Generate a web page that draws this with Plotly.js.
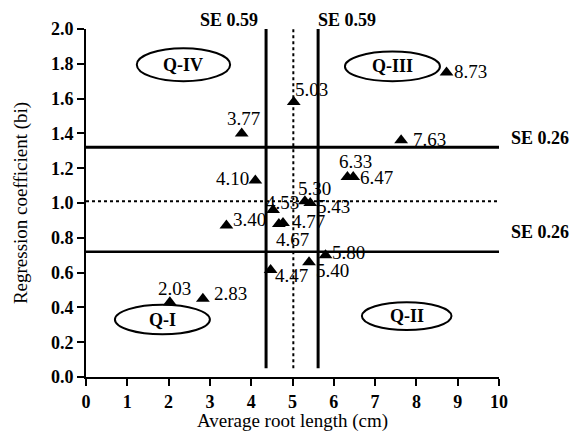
<!DOCTYPE html>
<html>
<head>
<meta charset="utf-8">
<script src="https://cdn.plot.ly/plotly-3.0.1.min.js"></script>
<style>html,body{margin:0;padding:0;background:#fff;}#chart{width:575px;height:432px;}</style>
</head>
<body>
<div id="chart"></div>
<script>
// ---- data ----
var rootLength = [2.03, 2.83, 3.40, 3.77, 4.10, 4.47, 4.53, 4.67, 4.77, 5.03, 5.30, 5.40, 5.43, 5.80, 6.33, 6.47, 7.63, 8.73];
var regCoef    = [0.43, 0.45, 0.87, 1.40, 1.13, 0.615, 0.96, 0.88, 0.885, 1.58, 1.01, 0.66, 1.00, 0.70, 1.15, 1.15, 1.36, 1.75];
var pointLabels = rootLength.map(function (v) { return v.toFixed(2); });

var meanLength = 5.02, lengthLow = 4.36, lengthHigh = 5.62;   // SE 0.59 lines
var meanCoef = 1.01, coefLow = 0.72, coefHigh = 1.32;         // SE 0.26 lines
var seLengthText = "SE 0.59", seCoefText = "SE 0.26";
var quadrantNames = ["Q-I", "Q-II", "Q-III", "Q-IV"];
var xTicks = [0, 1, 2, 3, 4, 5, 6, 7, 8, 9, 10];
var yTicks = [0.0, 0.2, 0.4, 0.6, 0.8, 1.0, 1.2, 1.4, 1.6, 1.8, 2.0];

// ---- label placement (style, not data) ----
var lblAnchor = ["center","left","left","center","right","left","center","center","left","left","center","left","left","left","center","left","left","left"];
var lblDx = [5, 9, 5, 2, -4, 2, 9, 14, 7, -1, 10, 5, 5, 4, 8, 5, 10, 5];
var lblDy = [14, 5, 6, 15, 2, -6, 7, -16, 2, 13, 13, -8, -3, 3, 15, -1, 1, 1];

// ellipse boxes for quadrant names [x0,x1,y0,y1]
var quadBoxes = [[0.70, 3.00, 0.245, 0.415], [6.68, 8.85, 0.27, 0.43], [6.27, 8.57, 1.70, 1.87], [1.23, 3.49, 1.70, 1.89]];

var serif = "Liberation Serif, Times New Roman, serif";

var trace = {
  x: rootLength, y: regCoef, type: "scatter", mode: "markers",
  marker: {symbol: "triangle-up", size: 12, color: "#000"},
  hoverinfo: "skip", showlegend: false, cliponaxis: false
};

var shapes = [];
function vline(x, dash, w) {
  shapes.push({type: "line", xref: "x", yref: "y", x0: x, x1: x, y0: 0.05, y1: 2.0,
    line: {color: "#000", width: w, dash: dash}, layer: "above"});
}
function hline(y, dash, w) {
  shapes.push({type: "line", xref: "x", yref: "y", x0: 0, x1: 10, y0: y, y1: y,
    line: {color: "#000", width: w, dash: dash}, layer: "above"});
}
vline(lengthLow, "solid", 3); vline(lengthHigh, "solid", 3); vline(meanLength, "dot", 2);
hline(coefHigh, "solid", 3); hline(coefLow, "solid", 2.5); hline(meanCoef, "dot", 2);
quadBoxes.forEach(function (b) {
  shapes.push({type: "circle", xref: "x", yref: "y", x0: b[0], x1: b[1], y0: b[2], y1: b[3],
    line: {color: "#000", width: 2}, fillcolor: "rgba(0,0,0,0)", layer: "above"});
});

var annotations = [];
for (var i = 0; i < rootLength.length; i++) {
  annotations.push({x: rootLength[i], y: regCoef[i], xref: "x", yref: "y", text: pointLabels[i],
    showarrow: false, xanchor: lblAnchor[i], yanchor: "middle", xshift: lblDx[i], yshift: lblDy[i],
    font: {family: serif, size: 19, color: "#000"}});
}
quadBoxes.forEach(function (b, k) {
  annotations.push({x: (b[0] + b[1]) / 2, y: (b[2] + b[3]) / 2, xref: "x", yref: "y", text: quadrantNames[k],
    showarrow: false, xanchor: "center", yanchor: "middle",
    font: {family: serif, size: 18, color: "#000", weight: "bold"}});
});
annotations.push({x: lengthLow, y: 2.0, xref: "x", yref: "y", text: seLengthText, showarrow: false,
  xanchor: "right", yanchor: "middle", xshift: -6, yshift: 9, font: {family: serif, size: 18, weight: "bold", color: "#000"}});
annotations.push({x: lengthHigh, y: 2.0, xref: "x", yref: "y", text: seLengthText, showarrow: false,
  xanchor: "left", yanchor: "middle", xshift: -2, yshift: 9, font: {family: serif, size: 18, weight: "bold", color: "#000"}});
annotations.push({x: 10, y: coefHigh, xref: "x", yref: "y", text: seCoefText, showarrow: false,
  xanchor: "left", yanchor: "middle", xshift: 10, yshift: 9, font: {family: serif, size: 18, weight: "bold", color: "#000"}});
annotations.push({x: 10, y: coefLow, xref: "x", yref: "y", text: seCoefText, showarrow: false,
  xanchor: "left", yanchor: "middle", xshift: 10, yshift: 20, font: {family: serif, size: 18, weight: "bold", color: "#000"}});

var layout = {
  width: 575, height: 432,
  margin: {l: 86, r: 76, t: 29, b: 55},
  paper_bgcolor: "#fff", plot_bgcolor: "#fff",
  font: {family: serif, color: "#000"},
  xaxis: {
    range: [0, 10], tickvals: xTicks, ticktext: xTicks.map(String),
    showline: true, linewidth: 2, linecolor: "#000", mirror: false,
    ticks: "outside", ticklen: 7, tickwidth: 2, tickcolor: "#000",
    showgrid: false, zeroline: false, automargin: false,
    tickfont: {family: serif, size: 18, weight: "bold", color: "#000"},
    title: {text: "Average root length (cm)", standoff: 9, font: {family: serif, size: 19, color: "#000"}}
  },
  yaxis: {
    range: [0, 2], tickvals: yTicks, ticktext: yTicks.map(function (v) { return v.toFixed(1); }),
    showline: true, linewidth: 2, linecolor: "#000",
    ticks: "outside", ticklen: 7, tickwidth: 2, tickcolor: "#000",
    showgrid: false, zeroline: false, automargin: false,
    tickfont: {family: serif, size: 18, weight: "bold", color: "#000"},
    title: {text: "Regression coefficient (bi)", standoff: 18, font: {family: serif, size: 19, color: "#000"}}
  },
  shapes: shapes,
  annotations: annotations,
  showlegend: false
};

Plotly.newPlot("chart", [trace], layout, {displayModeBar: false, staticPlot: true});
</script>
</body>
</html>
